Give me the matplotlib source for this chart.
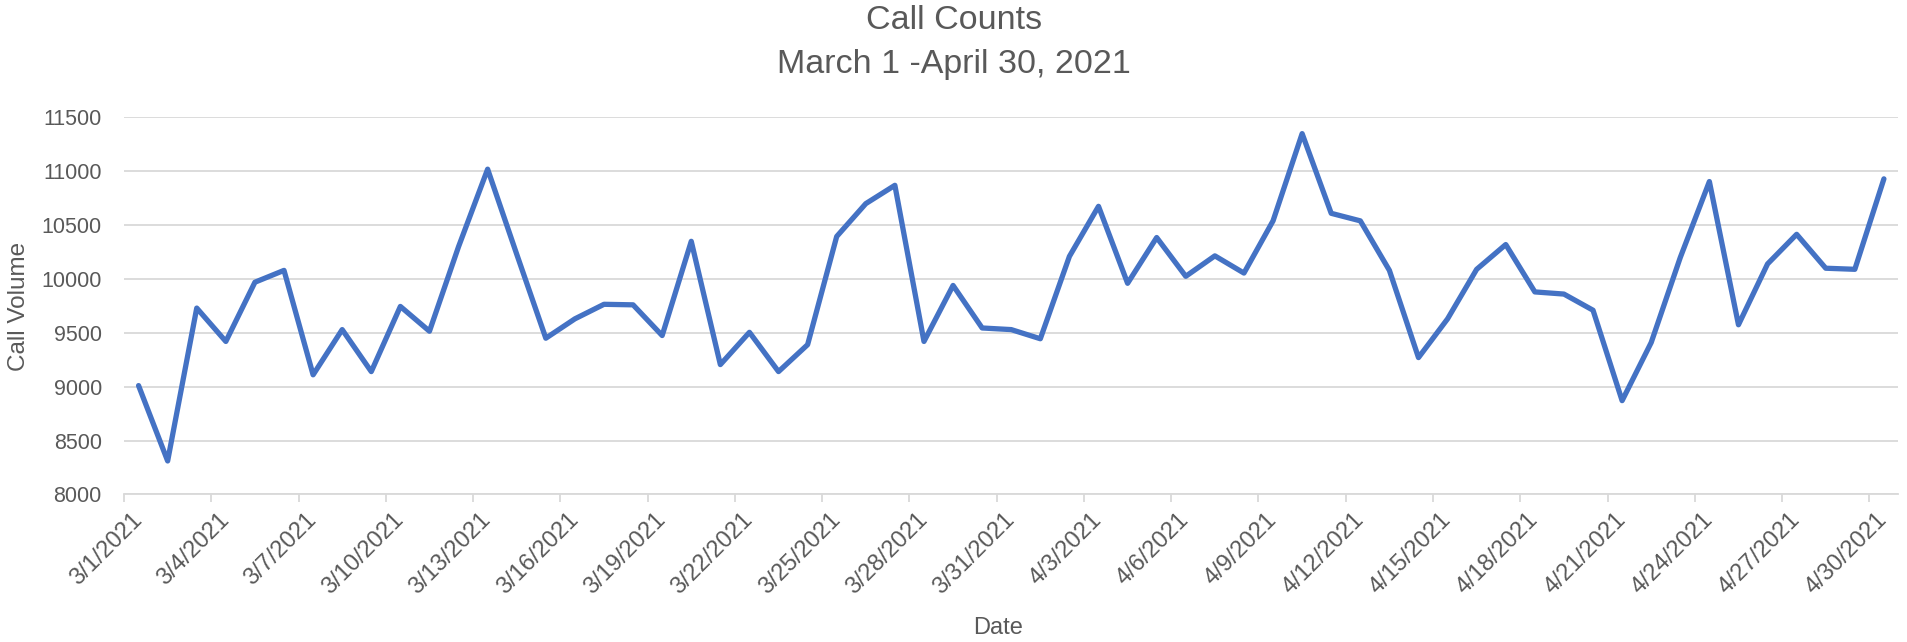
import numpy as np
import pandas as pd
import matplotlib
matplotlib.use('Agg')
import matplotlib.pyplot as plt

# daily call volume, 3/1/2021 - 4/30/2021
dates = pd.date_range('2021-03-01', '2021-04-30', freq='D')
calls = [
    9010, 8310, 9730, 9420, 9970, 10080, 9110, 9530, 9140, 9745,
    9515, 10300, 11020, 10230, 9450, 9630, 9765, 9760, 9475, 10350,
    9205, 9505, 9140, 9390, 10395, 10700, 10870, 9420, 9940, 9545,
    9530, 9445, 10210, 10675, 9960, 10385, 10025, 10215, 10055, 10540,
    11350, 10610, 10540, 10080, 9270, 9630, 10090, 10320, 9880, 9860,
    9710, 8870, 9410, 10200, 10905, 9575, 10140, 10415, 10100, 10090,
    10930,
]
label_step = 3
tick_labels = [f"{d.month}/{d.day}/{d.year}" for d in dates[::label_step]]
y_ticks = np.arange(8000, 11501, 500)

plt.rcParams['font.family'] = ['Liberation Sans', 'DejaVu Sans']
text_color = '#595959'
grid_color = '#D9D9D9'

fig = plt.figure(figsize=(19.08, 6.42), dpi=100)
ax = fig.add_axes([0.065, 0.230, 0.930, 0.587])

x = np.arange(len(calls))
ax.plot(x, calls, color='#4472C4', linewidth=3.8, solid_joinstyle='round',
        solid_capstyle='round', zorder=3)

ax.set_xlim(-0.5, len(calls) - 0.5)
ax.set_ylim(y_ticks[0], y_ticks[-1])

ax.set_yticks(y_ticks)
ax.set_yticklabels([str(v) for v in y_ticks])
ax.yaxis.grid(True, color=grid_color, linewidth=1.3)
ax.set_axisbelow(True)
ax.tick_params(axis='y', length=0, pad=16, labelsize=15.5, labelcolor=text_color)

# labels at category centres, tick marks between categories
ax.set_xticks(x[::label_step])
ax.set_xticklabels(tick_labels, rotation=45, ha='right', va='center',
                   rotation_mode='anchor')
ax.set_xticks(np.arange(-0.5, len(calls) - 1, label_step), minor=True)
ax.tick_params(axis='x', which='major', length=0, pad=16, labelsize=17,
               labelcolor=text_color)
ax.tick_params(axis='x', which='minor', length=6, width=1.3, color=grid_color,
               direction='out')

for side in ['top', 'right', 'left']:
    ax.spines[side].set_visible(False)
ax.spines['bottom'].set_color(grid_color)
ax.spines['bottom'].set_linewidth(1.3)

fig.text(0.5, 0.968, 'Call Counts', ha='center', va='center', fontsize=24.5,
         color=text_color)
fig.text(0.5, 0.900, 'March 1 -April 30, 2021', ha='center', va='center',
         fontsize=24.5, color=text_color)
fig.text(0.523, 0.022, 'Date', ha='center', va='center', fontsize=17,
         color=text_color)
fig.text(0.010, 0.523, 'Call Volume', ha='center', va='center', fontsize=17.5,
         rotation=90, color=text_color)

fig.savefig('out.png', dpi=100)
